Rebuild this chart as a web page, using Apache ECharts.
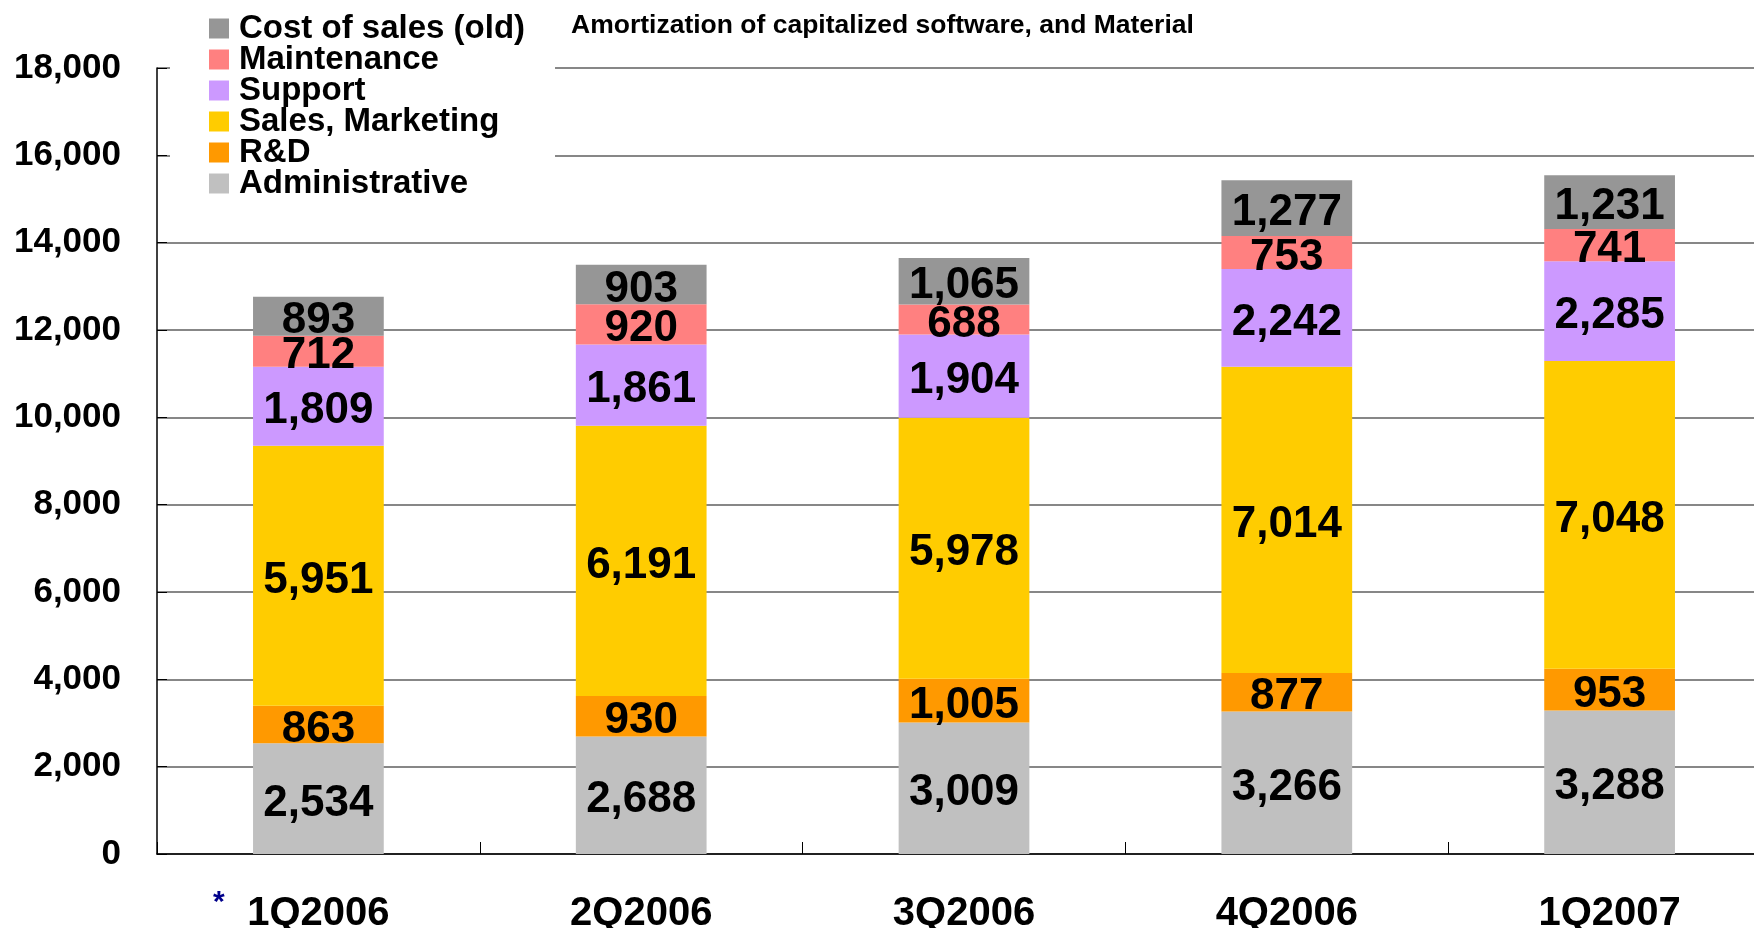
<!DOCTYPE html>
<html>
<head>
<meta charset="utf-8">
<script src="https://cdn.jsdelivr.net/npm/echarts@6/dist/echarts.min.js"></script>
<style>
  html, body { margin: 0; padding: 0; background: #fff; }
  #chart { width: 1754px; height: 928px; }
</style>
</head>
<body>
<div id="chart"></div>
<script>
var quarters = ['1Q2006', '2Q2006', '3Q2006', '4Q2006', '1Q2007'];
var admin = [2534, 2688, 3009, 3266, 3288];
var rnd = [863, 930, 1005, 877, 953];
var salesMkt = [5951, 6191, 5978, 7014, 7048];
var support = [1809, 1861, 1904, 2242, 2285];
var maintenance = [712, 920, 688, 753, 741];
var costOld = [893, 903, 1065, 1277, 1231];
var yTicks = [0, 2000, 4000, 6000, 8000, 10000, 12000, 14000, 16000, 18000];

var FONT = '"Liberation Sans", Arial, sans-serif';

function fmt(v) {
    return Number(v).toLocaleString('en-US');
}

function mkSeries(name, data, color) {
    return {
        name: name,
        type: 'bar',
        stack: 'total',
        data: data,
        barWidth: '40.5%',
        itemStyle: { color: color },
        label: {
            show: true,
            position: 'inside',
            offset: [0, 5],
            color: '#000',
            fontFamily: FONT,
            fontWeight: 'bold',
            fontSize: 44,
            formatter: function (p) { return fmt(p.value); }
        }
    };
}

var chart = echarts.init(document.getElementById('chart'));

var option = {
    animation: false,
    backgroundColor: '#fff',
    title: {
        text: 'Amortization of capitalized software, and Material',
        left: 566,
        top: 7,
        textStyle: { fontFamily: FONT, fontWeight: 'bold', fontSize: 26.5, color: '#000' }
    },
    legend: {
        orient: 'vertical',
        left: 170,
        top: 12,
        padding: [0, 30, 14, 39],
        backgroundColor: '#fff',
        itemGap: -2,
        itemWidth: 20,
        itemHeight: 20,
        icon: 'rect',
        data: ['Cost of sales (old)', 'Maintenance', 'Support', 'Sales, Marketing', 'R&D', 'Administrative'],
        textStyle: { fontFamily: FONT, fontWeight: 'bold', fontSize: 33, color: '#000', padding: [0, 0, 0, 5] }
    },
    grid: { left: 157, right: -17, top: 68, bottom: 74, outerBoundsMode: 'none' },
    xAxis: {
        type: 'category',
        data: quarters,
        axisLine: { lineStyle: { color: '#000', width: 1.5 } },
        axisTick: { show: true, inside: true, length: 12, lineStyle: { color: '#000' } },
        axisLabel: {
            margin: 40,
            color: '#000',
            fontFamily: FONT,
            fontWeight: 'bold',
            fontSize: 40
        }
    },
    yAxis: {
        type: 'value',
        min: 0,
        max: yTicks[yTicks.length - 1],
        interval: yTicks[1] - yTicks[0],
        axisLine: { show: true, lineStyle: { color: '#000', width: 1.5 } },
        axisTick: { show: true, inside: true, length: 10, lineStyle: { color: '#000' } },
        splitLine: { show: true, lineStyle: { color: '#5f5f5f', width: 1.5 } },
        axisLabel: {
            margin: 36,
            color: '#000',
            fontFamily: FONT,
            fontWeight: 'bold',
            fontSize: 35,
            formatter: function (v) { return fmt(v); }
        }
    },
    graphic: [{
        type: 'text',
        left: 213,
        top: 888,
        style: { text: '*', fill: '#00008b', font: 'bold 30px ' + FONT }
    }],
    series: [
        mkSeries('Administrative', admin, '#C0C0C0'),
        mkSeries('R&D', rnd, '#FF9900'),
        mkSeries('Sales, Marketing', salesMkt, '#FFCC00'),
        mkSeries('Support', support, '#CC99FF'),
        mkSeries('Maintenance', maintenance, '#FF8080'),
        mkSeries('Cost of sales (old)', costOld, '#969696')
    ]
};

chart.setOption(option);
</script>
</body>
</html>
